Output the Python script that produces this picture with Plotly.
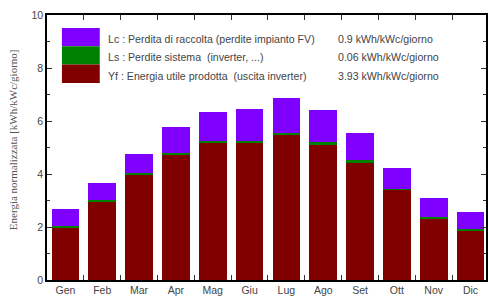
import plotly.graph_objects as go

months = ["Gen", "Feb", "Mar", "Apr", "Mag", "Giu", "Lug", "Ago", "Set", "Ott", "Nov", "Dic"]
yf = [1.99, 2.96, 3.97, 4.74, 5.18, 5.19, 5.47, 5.12, 4.45, 3.40, 2.33, 1.87]
ls = [0.05, 0.05, 0.06, 0.07, 0.07, 0.07, 0.08, 0.07, 0.06, 0.05, 0.04, 0.04]
lc = [0.63, 0.64, 0.72, 0.95, 1.10, 1.21, 1.33, 1.24, 1.02, 0.76, 0.71, 0.67]

legend_labels = [
    "Lc : Perdita di raccolta (perdite impianto FV)",
    "Ls : Perdite sistema  (inverter, ...)",
    "Yf : Energia utile prodotta  (uscita inverter)",
]
legend_values = ["0.9 kWh/kWc/giorno", "0.06 kWh/kWc/giorno", "3.93 kWh/kWc/giorno"]
colors = ["#8000ff", "#008000", "#800000"]
y_title = "Energia normalizzata [kWh/kWc/giorno]"

fig = go.Figure()
for vals, col in [(yf, colors[2]), (ls, colors[1]), (lc, colors[0])]:
    fig.add_trace(go.Bar(x=months, y=vals, marker=dict(color=col, line=dict(width=0)),
                         width=0.75, showlegend=False, hoverinfo="skip"))

W, H = 488, 296
L, T, B, R = 47, 15, 16, 0
fig.update_layout(
    width=W, height=H, barmode="stack",
    margin=dict(l=L, r=R, t=T, b=B),
    paper_bgcolor="white", plot_bgcolor="white",
    font=dict(family="Liberation Sans, Arial, sans-serif", size=10, color="#444"),
)
fig.update_xaxes(
    range=[-0.5, 11.42], tickson="boundaries", ticks="inside", ticklen=5,
    tickcolor="#333", tickwidth=1, showline=True, linecolor="black", linewidth=1.5,
    mirror="ticks", showgrid=False, tickfont=dict(size=10.5, color="#444"),
)
fig.update_yaxes(
    range=[0, 10], dtick=2, ticks="inside", ticklen=5, tickcolor="#333",
    showline=True, linecolor="black", linewidth=1.5, mirror="ticks", showgrid=False,
    zeroline=False, tickfont=dict(size=10.5, color="#444"),
    minor=dict(dtick=1, ticks="inside", ticklen=3, tickcolor="#333", showgrid=False),
)

pw, ph = W - L - R, H - T - B
def px2x(px): return (px - L) / pw
def px2y(py): return (H - B - py) / ph

# y-axis title (serif)
fig.add_annotation(text=y_title, xref="paper", yref="paper", x=px2x(13), y=px2y(140),
                   xanchor="center", yanchor="middle", textangle=-90, showarrow=False,
                   font=dict(family="Liberation Serif, Times New Roman, serif", size=11, color="#555"))

# custom legend
box_top = 28
box_h = 18.3
for i, (lab, val, col) in enumerate(zip(legend_labels, legend_values, colors)):
    y0 = box_top + i * box_h
    fig.add_shape(type="rect", xref="paper", yref="paper", x0=px2x(62), x1=px2x(100),
                  y0=px2y(y0 + box_h), y1=px2y(y0), fillcolor=col, line=dict(width=0), layer="above")
    yc = px2y(y0 + box_h / 2 + 2)
    fig.add_annotation(text=lab, xref="paper", yref="paper", x=px2x(106), y=yc, xanchor="left",
                       yanchor="middle", showarrow=False, font=dict(size=10.6, color="#444"))
    fig.add_annotation(text=val, xref="paper", yref="paper", x=px2x(337), y=yc, xanchor="left",
                       yanchor="middle", showarrow=False, font=dict(size=10.6, color="#444"))

fig.write_html("out.html", config={"displayModeBar": False},
               post_script="document.body.style.margin='0';document.body.style.overflow='hidden';")
